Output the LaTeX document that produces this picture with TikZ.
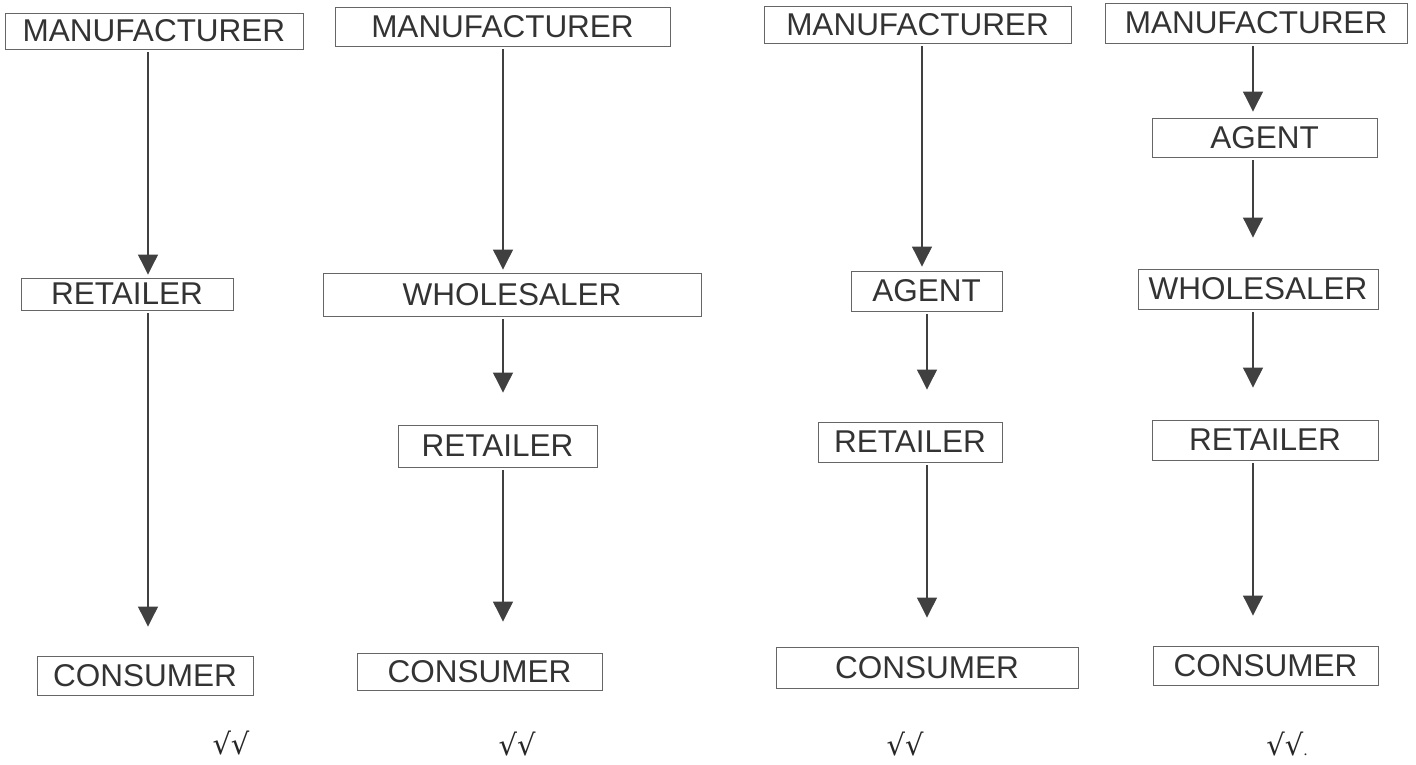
\documentclass[tikz,border=0pt]{standalone}
\usepackage{fontspec}
\setmainfont{Liberation Sans}
\newfontfamily\chkfont{DejaVu Serif}
\usetikzlibrary{arrows.meta}
\begin{document}
\begin{tikzpicture}[x=1pt,y=-1pt,
  box/.style={draw=black!60, line width=0.9pt, inner sep=0pt,
    font=\fontsize{31.5}{36}\selectfont, text=black!80},
  arr/.style={draw=black!75, line width=1.1pt,
    -{Triangle[width=20pt,length=20pt]}, shorten <=3pt},
  chk/.style={font=\chkfont\fontsize{29}{34}\selectfont, text=black!85, inner sep=0pt}]
\useasboundingbox (0,0) rectangle (1416,764);
% column 1
\node[box, minimum width=298pt, minimum height=36pt] (m1) at (154,31) {MANUFACTURER};
\node[box, minimum width=212pt, minimum height=32pt] (r1) at (127,294) {RETAILER};
\node[box, minimum width=216pt, minimum height=39pt] (c1) at (145,675.5) {CONSUMER};
% column 2
\node[box, minimum width=335pt, minimum height=39pt] (m2) at (502.5,26.5) {MANUFACTURER};
\node[box, minimum width=378pt, minimum height=43pt] (w2) at (512,294.5) {WHOLESALER};
\node[box, minimum width=199pt, minimum height=42pt] (r2) at (497.5,446) {RETAILER};
\node[box, minimum width=245pt, minimum height=37pt] (c2) at (479.5,671.5) {CONSUMER};
% column 3
\node[box, minimum width=307pt, minimum height=37pt] (m3) at (917.5,24.5) {MANUFACTURER};
\node[box, minimum width=151pt, minimum height=40pt] (a3) at (926.5,291) {AGENT};
\node[box, minimum width=184pt, minimum height=40pt] (r3) at (910,442) {RETAILER};
\node[box, minimum width=302pt, minimum height=41pt] (c3) at (927,667.5) {CONSUMER};
% column 4
\node[box, minimum width=302pt, minimum height=40pt] (m4) at (1256,23) {MANUFACTURER};
\node[box, minimum width=225pt, minimum height=39pt] (a4) at (1264.5,137.5) {AGENT};
\node[box, minimum width=240pt, minimum height=40pt] (w4) at (1258,289) {WHOLESALER};
\node[box, minimum width=226pt, minimum height=40pt] (r4) at (1265,440) {RETAILER};
\node[box, minimum width=225pt, minimum height=39pt] (c4) at (1265.5,665.5) {CONSUMER};
% arrows
\draw[arr, shorten >=3pt]  (148,0 |- m1.south) -- (148,0 |- r1.north);
\draw[arr, shorten >=29pt] (148,0 |- r1.south) -- (148,0 |- c1.north);
\draw[arr, shorten >=3pt]  (503,0 |- m2.south) -- (503,0 |- w2.north);
\draw[arr, shorten >=32pt] (503,0 |- w2.south) -- (503,0 |- r2.north);
\draw[arr, shorten >=31pt] (503,0 |- r2.south) -- (503,0 |- c2.north);
\draw[arr, shorten >=4pt]  (922,0 |- m3.south) -- (922,0 |- a3.north);
\draw[arr, shorten >=32pt] (927,0 |- a3.south) -- (927,0 |- r3.north);
\draw[arr, shorten >=29pt] (927,0 |- r3.south) -- (927,0 |- c3.north);
\draw[arr, shorten >=6pt]  (1253,0 |- m4.south) -- (1253,0 |- a4.north);
\draw[arr, shorten >=31pt] (1253,0 |- a4.south) -- (1253,0 |- w4.north);
\draw[arr, shorten >=32pt] (1253,0 |- w4.south) -- (1253,0 |- r4.north);
\draw[arr, shorten >=30pt] (1253,0 |- r4.south) -- (1253,0 |- c4.north);
% ticks
\node[chk] (k1) at (231,743) {√√};
\node[chk] (k2) at (517,744) {√√};
\node[chk] (k3) at (905,744) {√√};
\node[chk] (k4) at (1287,744) {√√{\fontsize{14}{16}\selectfont.}};
\end{tikzpicture}
\end{document}
